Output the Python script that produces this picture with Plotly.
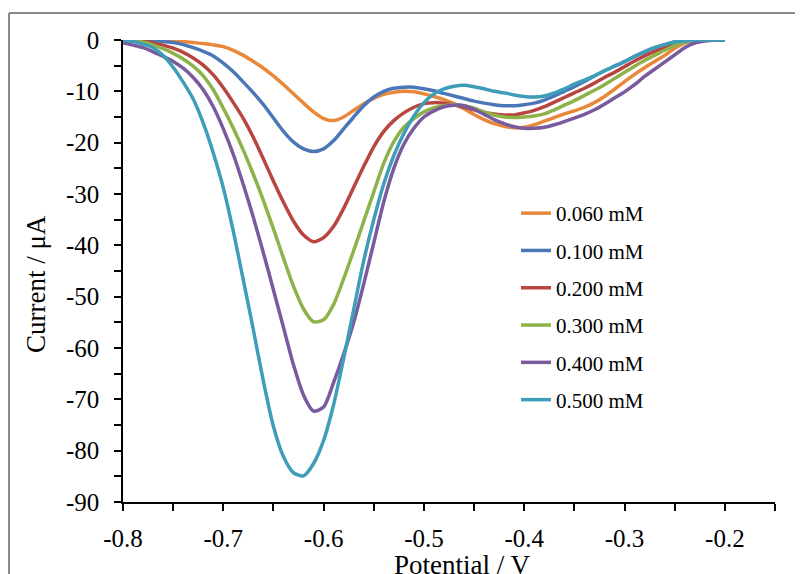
import plotly.graph_objects as go

potential = [round(-0.80 + 0.01 * i, 2) for i in range(61)]

c_0060 = [0, 0, 0, 0, -0.1, -0.2, -0.3, -0.5, -0.7, -0.95,
          -1.3, -2.0, -3.0, -4.2, -5.5, -7.0, -8.7, -10.5, -12.3, -14.0,
          -15.3, -15.7, -15.0, -13.7, -12.4, -11.4, -10.6, -10.2, -10.0, -10.1,
          -10.5, -11.0, -11.6, -12.4, -13.4, -14.5, -15.5, -16.3, -16.8, -17.1,
          -17.0, -16.5, -15.8, -15.1, -14.4, -13.8, -13.1, -12.2, -11.0, -9.6,
          -8.1, -6.7, -5.4, -4.2, -3.0, -1.6, -0.6, -0.2, 0, 0, 0]

c_0100 = [0, 0, 0, -0.1, -0.3, -0.5, -0.9, -1.5, -2.2, -3.1,
          -4.5, -6.2, -8.2, -10.3, -12.6, -15.2, -17.8, -19.9, -21.2, -21.7,
          -21.2, -19.6, -17.3, -15.0, -12.8, -11.1, -10.0, -9.4, -9.2, -9.2,
          -9.5, -9.9, -10.4, -10.9, -11.4, -11.9, -12.3, -12.6, -12.8, -12.8,
          -12.6, -12.3, -11.7, -10.9, -10.0, -9.1, -8.1, -7.0, -6.0, -5.1,
          -4.2, -3.2, -2.3, -1.5, -0.9, -0.4, -0.2, 0, 0, 0, 0]

c_0200 = [0, 0, -0.2, -0.6, -1.0, -1.6, -2.4, -3.5, -4.9, -6.8,
          -9.3, -12.2, -15.3, -19.0, -23.2, -27.5, -31.6, -35.3, -38.0, -39.3,
          -38.5, -36.3, -32.8, -28.7, -24.6, -20.8, -17.8, -15.7, -14.2, -13.1,
          -12.4, -12.2, -12.3, -12.6, -13.1, -13.6, -14.1, -14.4, -14.6, -14.6,
          -14.2, -13.7, -13.0, -12.1, -11.2, -10.3, -9.4, -8.4, -7.3, -6.3,
          -5.2, -4.1, -3.1, -2.2, -1.4, -0.7, -0.3, -0.1, 0, 0, 0]

c_0300 = [0, -0.1, -0.4, -1.0, -1.7, -2.6, -3.7, -5.1, -7.0, -9.7,
          -13.3, -17.2, -21.5, -26.2, -31.3, -36.8, -42.5, -48.0, -52.4, -54.9,
          -54.5, -51.5, -46.5, -41.0, -35.3, -29.6, -24.0, -19.8, -17.0, -15.3,
          -14.0, -13.2, -12.8, -12.6, -12.8, -13.3, -14.0, -14.6, -15.0, -15.1,
          -15.0, -14.8, -14.4, -13.6, -12.7, -11.8, -10.8, -9.8, -8.7, -7.5,
          -6.3, -5.1, -4.0, -3.0, -2.0, -1.1, -0.4, -0.1, 0, 0, 0]

c_0400 = [-0.5, -1.0, -1.5, -2.3, -3.2, -4.2, -5.5, -7.3, -9.7, -13.0,
          -17.3, -22.3, -28.2, -34.6, -41.5, -48.7, -56.0, -63.3, -69.2, -72.3,
          -71.5, -66.7, -61.2, -55.0, -47.5, -39.5, -31.5, -25.0, -20.3, -17.2,
          -15.0, -13.8, -13.0, -12.7, -12.8, -13.5, -14.5, -15.5, -16.3, -16.9,
          -17.2, -17.2, -17.0, -16.5, -15.9, -15.2, -14.5, -13.6, -12.5, -11.3,
          -10.1, -8.7, -7.1, -5.7, -4.3, -2.9, -1.5, -0.6, -0.2, 0, 0]

c_0500 = [0, -0.3, -0.8, -1.5, -3.0, -5.3, -8.2, -11.5, -16.2, -22.0,
          -28.8, -37.3, -46.8, -56.5, -66.5, -75.3, -81.2, -84.3, -84.9, -82.5,
          -78.0, -71.0, -62.0, -52.5, -43.0, -35.0, -28.0, -22.5, -18.2, -14.8,
          -12.2, -10.5, -9.5, -9.0, -8.8, -9.1, -9.5, -10.0, -10.3, -10.7,
          -11.0, -11.1, -10.9, -10.3, -9.5, -8.6, -7.8, -7.0, -6.0, -5.1,
          -4.2, -3.2, -2.3, -1.5, -0.9, -0.4, -0.2, 0, 0, 0, 0]

series_names = ["0.060 mM", "0.100 mM", "0.200 mM", "0.300 mM", "0.400 mM", "0.500 mM"]
series_values = [c_0060, c_0100, c_0200, c_0300, c_0400, c_0500]
series_colors = ["#E8883A", "#4A78B6", "#B8453F", "#8DB24A", "#7A5A9E", "#3E9DB8"]

x_tick_vals = [-0.8, -0.7, -0.6, -0.5, -0.4, -0.3, -0.2]
x_tick_text = ["-0.8", "-0.7", "-0.6", "-0.5", "-0.4", "-0.3", "-0.2"]
y_tick_vals = [0, -10, -20, -30, -40, -50, -60, -70, -80, -90]
y_tick_text = ["0", "-10", "-20", "-30", "-40", "-50", "-60", "-70", "-80", "-90"]

FONT = "Liberation Serif, Times New Roman, serif"

# figure sits at an 8px body offset in the page
W, H = 795, 566
L, R, T, B = 115, 28, 32, 72
PW, PH = W - L - R, H - T - B


def px_to_paper_x(px):
    return (px - 8 - L) / PW


def px_to_paper_y(py):
    return (H - B - (py - 8)) / PH


fig = go.Figure()
for name, vals, col in zip(series_names, series_values, series_colors):
    fig.add_trace(go.Scatter(
        x=potential, y=vals, mode="lines", name=name, legendgroup=name,
        line=dict(color=col, width=3.5, shape="spline", smoothing=0.7),
    ))

axis_common = dict(
    showgrid=False, zeroline=False, showline=True, linecolor="black", linewidth=1.5,
    ticks="outside", ticklen=7, tickwidth=1.5, tickcolor="black",
    tickfont=dict(family=FONT, size=25, color="black"),
)

fig.update_layout(
    width=W, height=H,
    margin=dict(l=L, r=R, t=T, b=B),
    paper_bgcolor="white", plot_bgcolor="white",
    font=dict(family=FONT, size=21, color="black"),
    showlegend=True,
    xaxis=dict(
        range=[-0.8, -0.15], tickmode="array", tickvals=x_tick_vals, ticktext=x_tick_text,
        minor=dict(dtick=0.05, tick0=-0.8, ticks="outside", ticklen=7, tickwidth=1.5, tickcolor="black"),
        ticklabelstandoff=6,
        **axis_common,
    ),
    yaxis=dict(
        range=[-90, 0], tickmode="array", tickvals=y_tick_vals, ticktext=y_tick_text,
        minor=dict(dtick=5, tick0=0, ticks="outside", ticklen=7, tickwidth=1.5, tickcolor="black"),
        ticklabelstandoff=10,
        **axis_common,
    ),
    legend=dict(
        x=px_to_paper_x(516), y=px_to_paper_y(193), xanchor="left", yanchor="top",
        font=dict(family=FONT, size=21), bgcolor="rgba(0,0,0,0)",
        tracegroupgap=7,
    ),
    annotations=[
        dict(text="Potential / V", xref="paper", yref="paper",
             x=px_to_paper_x(462), y=px_to_paper_y(565), xanchor="center", yanchor="middle",
             showarrow=False, font=dict(family=FONT, size=27)),
        dict(text="Current / μA", xref="paper", yref="paper", textangle=-90,
             x=px_to_paper_x(36), y=px_to_paper_y(284), xanchor="center", yanchor="middle",
             showarrow=False, font=dict(family=FONT, size=27)),
    ],
    shapes=[
        dict(type="line", xref="paper", yref="paper",
             x0=px_to_paper_x(9), x1=1.2, y0=px_to_paper_y(13), y1=px_to_paper_y(13),
             line=dict(color="#8a8a8a", width=2)),
        dict(type="line", xref="paper", yref="paper",
             x0=px_to_paper_x(9), x1=px_to_paper_x(9), y0=-0.4, y1=px_to_paper_y(13),
             line=dict(color="#8a8a8a", width=2)),
    ],
)

fig.write_html("out.html")
